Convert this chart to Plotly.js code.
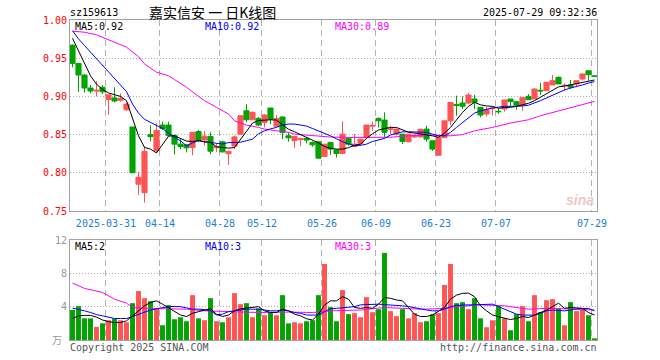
<!DOCTYPE html>
<html><head><meta charset="utf-8">
<script src="https://cdn.plot.ly/plotly-3.0.1.min.js"></script>
<style>html,body{margin:0;padding:0;background:#fff;}#c{width:660px;height:360px;}</style>
</head><body><div id="c"></div>
<script>
const dates = ['03-21','03-24','03-25','03-26','03-27','03-28','03-31',
'04-01','04-02','04-03','04-07','04-08','04-09','04-10','04-11','04-14','04-15','04-16','04-17','04-18','04-21','04-22','04-23','04-24','04-25','04-28','04-29','04-30',
'05-06','05-07','05-08','05-09','05-12','05-13','05-14','05-15','05-16','05-19','05-20','05-21','05-22','05-23','05-26','05-27','05-28','05-29','05-30',
'06-03','06-04','06-05','06-06','06-09','06-10','06-11','06-12','06-13','06-16','06-17','06-18','06-19','06-20','06-23','06-24','06-25','06-26','06-27','06-30',
'07-01','07-02','07-03','07-04','07-07','07-08','07-09','07-10','07-11','07-14','07-15','07-16','07-17','07-18','07-21','07-22','07-23','07-24','07-25','07-28','07-29'];
const tickDates = ['03-31','04-14','04-28','05-12','05-26','06-09','06-23','07-07','07-29'];
const tickLabels = ['2025-03-31','04-14','04-28','05-12','05-26','06-09','06-23','07-07','07-29'];

const open  = [.967,.943,.928,.911,.907,.912,.896,.898,.895,.8825,.860,.785,.774,.850,.829,.8625,.8625,.849,.8375,.8366,.833,.854,.843,.8476,.833,.8406,.825,.835,
.8506,.8812,.8694,.8712,.866,.8848,.8608,.873,.8484,.842,.8435,.845,.8398,.8406,.8214,.8398,.830,.8253,.845,.8345,.8385,
.8463,.861,.8712,.869,.857,.8506,.8506,.8406,.847,.847,.8572,.8419,.823,.8463,.868,.8895,.8913,.8913,
.8966,.8857,.877,.8838,.8805,.8835,.8966,.8931,.8887,.9001,.8966,.908,.9075,.915,.925,.914,.915,.9163,.9228,.9335,.927];
const high  = [.968,.944,.929,.915,.920,.915,.902,.912,.904,.892,.860,.801,.835,.862,.865,.867,.867,.850,.845,.838,.853,.856,.8546,.853,.8389,.842,.829,.849,
.8747,.890,.8803,.873,.877,.885,.8756,.874,.8529,.8476,.846,.8465,.841,.842,.8375,.8405,.831,.8673,.8463,.8506,.8441,
.8625,.8673,.8725,.8791,.8616,.858,.851,.8506,.8505,.858,.8616,.842,.847,.868,.8922,.901,.900,.9045,
.9018,.886,.886,.887,.884,.8953,.8966,.8935,.899,.903,.910,.9176,.919,.928,.926,.9172,.9215,.9206,.930,.9337,.927];
const low   = [.938,.906,.905,.904,.900,.903,.876,.892,.893,.881,.800,.771,.761,.841,.827,.856,.8475,.824,.831,.8267,.8231,.840,.8353,.8244,.8274,.8266,.8104,.831,
.850,.866,.8694,.861,.8594,.8638,.8608,.844,.8406,.8327,.835,.8385,.834,.8188,.8205,.8235,.820,.8244,.8353,.8335,.836,
.845,.855,.8594,.8463,.8506,.849,.8375,.840,.8455,.846,.8406,.8287,.822,.845,.8625,.8747,.8835,.8896,
.8835,.8726,.8735,.8747,.877,.880,.887,.8826,.8812,.8957,.8966,.9018,.907,.915,.9163,.9075,.9097,.912,.9206,.9206,.926];
const close = [.943,.928,.911,.907,.908,.906,.902,.894,.8975,.890,.800,.794,.828,.8475,.8555,.858,.849,.8375,.8345,.8327,.853,.8425,.848,.8283,.834,.8274,.828,.847,
.8747,.8694,.8791,.8625,.8756,.8703,.8712,.8529,.8458,.8476,.8445,.8428,.8366,.8192,.8375,.831,.8253,.8506,.8375,.8375,.8441,
.8625,.862,.8681,.8529,.8575,.8572,.8411,.8506,.849,.857,.8441,.831,.8463,.868,.892,.888,.887,.9018,
.8922,.8756,.8826,.8844,.880,.8953,.8931,.8887,.8983,.8957,.9097,.9072,.9185,.9206,.9163,.9145,.912,.9206,.9294,.9285,.926];
const volume = [3.6,4.06,2.6,2.6,1.57,2.0,2.37,2.57,2.37,2.13,
4.42,5.87,5.02,4.66,3.78,1.77,4.18,2.49,2.73,2.25,
5.38,2.6,2.37,5.02,2.25,2.13,2.73,5.62,4.3,4.42,
2.73,3.78,2.97,3.3,2.97,5.38,2.0,2.13,2.0,2.25,
2.37,5.38,9.12,3.94,2.25,5.99,3.1,3.22,2.73,5.14,
3.34,3.7,10.45,3.46,2.86,3.7,2.6,3.22,2.13,2.25,
3.1,3.22,6.6,9.12,4.42,4.54,3.7,5.02,2.6,1.53,
2.37,4.06,2.6,1.17,3.1,4.06,2.25,5.38,3.34,4.78,
4.9,3.82,1.77,4.54,3.46,3.7,2.97,0.2];

// moving-average lines
const ma5 = [.976,.960,.9425,.927,.916,.909,.9045,.902,.900,.8944,.870,.8484,.8332,.831,.826,.8375,.848,.8485,.845,.8415,.841,.842,.8405,.8398,.834,.8335,.8323,.833,
.844,.855,.865,.8685,.8694,.8694,.869,.8625,.857,.8537,.85,.8463,.843,.839,.8345,.832,.831,.831,.833,.836,.8375,
.845,.851,.856,.858,.8594,.8594,.856,.853,.852,.851,.8495,.8484,.8465,.852,.8594,.869,.879,.887,
.8922,.889,.8875,.887,.8844,.8855,.8857,.887,.8887,.891,.8944,.899,.9035,.9088,.9125,.9135,.915,.916,.9185,.920,.9215];
const ma10 = [.986,.9753,.9666,.958,.949,.9403,.9316,.9228,.914,.9062,.890,.8782,.870,.866,.8625,.8581,.852,.8463,.8419,.8353,.839,.8425,.8405,.840,.8385,.8378,.8395,.8398,
.840,.842,.844,.851,.855,.8575,.8594,.8625,.8638,.8638,.8625,.8612,.858,.855,.852,.8484,.8445,.8406,.838,.8355,.836,
.8375,.841,.8435,.845,.8495,.852,.8537,.8537,.8537,.8537,.853,.8506,.8484,.8484,.853,.8594,.866,.872,
.8782,.881,.8835,.885,.886,.887,.887,.887,.8875,.8885,.891,.8944,.898,.9018,.905,.9085,.911,.9125,.915,.9175,.9193];
const ma30Idx = [0,2,4,6,7,9,11,12,14,16,17,19,21,22,24,26,27,29,31,32,34,36,37,39,41,43,46,50,53,56,60,63,65,67,70,73,76,78,81,84,87];
const ma30 = [.9854,.984,.9806,.974,.970,.9644,.952,.9425,.9316,.927,.922,.912,.900,.8944,.8857,.877,.8681,.8625,.8594,.8572,.855,.853,.8506,.8493,.8476,.8468,.8463,.8463,.8465,.8484,.8495,.8484,.850,.855,.8594,.8651,.8694,.8747,.8812,.887,.8935];

const vma5 = [2.58,2.9,2.95,2.95,2.75,2.4,2.2,2.1,2.1,2.3,2.9,3.5,4.1,4.5,4.7,4.3,3.9,3.4,3.0,2.82,3.2,3.4,3.6,3.75,3.1,2.82,3.0,3.5,
3.75,3.85,3.95,4.0,3.5,3.3,3.3,3.7,3.5,3.1,2.9,2.55,2.4,3.1,4.2,4.7,4.7,5.2,4.9,3.9,3.8,
3.9,3.8,4.3,5.1,5.0,4.8,4.7,3.9,3.1,2.82,2.82,3.0,3.4,3.9,4.9,5.38,5.6,5.62,
5.2,4.1,3.5,3.0,2.8,2.6,2.45,2.6,2.82,2.7,3.0,3.3,3.6,4.0,4.42,3.8,3.9,3.85,3.8,3.3,3.0];
const vma10 = [3.82,3.7,3.5,3.3,3.05,2.9,2.7,2.58,2.58,2.58,2.82,3.1,3.38,3.6,3.75,3.9,4.0,4.02,4.0,3.85,3.7,3.7,3.65,3.5,3.0,3.1,3.4,3.5,
3.6,3.7,3.7,3.7,3.6,3.5,3.5,3.6,3.5,3.3,3.2,3.0,2.98,3.0,3.4,3.75,3.8,3.85,3.9,4.0,4.22,
4.25,4.3,4.3,4.25,4.22,4.2,4.1,4.02,3.85,3.7,3.6,3.5,3.5,3.7,4.0,4.15,4.22,4.22,
4.22,4.22,4.25,4.3,4.0,3.7,3.4,3.1,3.0,2.98,2.98,3.2,3.5,3.6,3.55,3.5,3.6,3.75,3.78,3.78,3.5];
const vma30Idx = [0,2,5,7,9,10,13,17,19,22,27,31,36,40,43,48,52,55,58,62,64,68,72,76,79,82,86,87];
const vma30 = [6.83,6.19,5.71,4.9,4.42,3.9,3.78,3.72,3.7,3.5,3.38,3.3,3.35,3.3,3.5,3.6,3.9,3.8,3.7,3.78,4.0,4.22,4.1,3.7,3.8,3.75,3.7,3.6];

const UP = '#ff5454', DOWN = '#00a400';
const idx = dates.map((d, i) => i);
const tickvals = tickDates.map(d => dates.indexOf(d) - 0.42);
const barColors = idx.map(i => close[i] >= open[i] ? UP : DOWN);

const mono = 'DejaVu Sans Mono, monospace';
const L = 70, R = 597, T = 20, B = 340;
const px = x => (x - L) / (R - L);
const py = y => (B - y) / (B - T);

const traces = [
  {type:'candlestick', x: idx, open, high, low, close, xaxis:'x', yaxis:'y', hoverinfo:'none',
   whiskerwidth: 0,
   increasing:{line:{color:UP, width:1}, fillcolor:UP},
   decreasing:{line:{color:DOWN, width:1}, fillcolor:DOWN}},
  {type:'scatter', mode:'lines', x: ma30Idx, y: ma30, line:{color:'#ff00ff', width:1}, xaxis:'x', yaxis:'y', hoverinfo:'none'},
  {type:'scatter', mode:'lines', x: idx, y: ma10, line:{color:'#0000ff', width:1}, xaxis:'x', yaxis:'y', hoverinfo:'none'},
  {type:'scatter', mode:'lines', x: idx, y: ma5, line:{color:'#000000', width:1}, xaxis:'x', yaxis:'y', hoverinfo:'none'},
  {type:'bar', x: idx, y: volume, marker:{color: barColors, line:{width:0}}, width: 0.82, xaxis:'x2', yaxis:'y2', hoverinfo:'none'},
  {type:'scatter', mode:'lines', x: vma30Idx, y: vma30, line:{color:'#ff00ff', width:1}, xaxis:'x2', yaxis:'y2', hoverinfo:'none'},
  {type:'scatter', mode:'lines', x: idx, y: vma10, line:{color:'#0000ff', width:1}, xaxis:'x2', yaxis:'y2', hoverinfo:'none'},
  {type:'scatter', mode:'lines', x: idx, y: vma5, line:{color:'#000000', width:1}, xaxis:'x2', yaxis:'y2', hoverinfo:'none'}
];

const xcommon = {range:[-0.4167, 87.4167], tickvals, ticktext: tickLabels, showgrid:true, gridcolor:'#b0b0b0',
  griddash:'6px,4px', gridwidth:1, showline:true, mirror:true, linecolor:'#a0a0a0', linewidth:1, ticks:'', zeroline:false, fixedrange:true};

function ann(text, x, y, xanchor, color, size, family, extra) {
  return Object.assign({text, xref:'paper', yref:'paper', x: px(x), y: py(y), xanchor, yanchor:'middle',
    showarrow:false, font:{family: family || mono, size: size || 10, color}}, extra || {});
}

const layout = {
  width:660, height:360, margin:{l:L, r:660-R, t:T, b:360-B}, paper_bgcolor:'#fff', plot_bgcolor:'#fff',
  showlegend:false, boxgap:0.15, boxgroupgap:0,
  xaxis: Object.assign({}, xcommon, {anchor:'y', showticklabels:true, ticklabelstandoff:3,
    tickfont:{family:mono, size:10, color:'#1b7fd6'}, rangeslider:{visible:false}}),
  xaxis2: Object.assign({}, xcommon, {anchor:'y2', showticklabels:false}),
  yaxis: {domain:[(B-211)/(B-T), 1], range:[0.75, 1.0], tickvals:[0.75,0.80,0.85,0.90,0.95,1.00], tickformat:'.2f',
    showgrid:true, gridcolor:'#b0b0b0', griddash:'1px,2px', showline:true, mirror:true, linecolor:'#a0a0a0', linewidth:1,
    zeroline:false, ticks:'', tickfont:{family:mono, size:10, color:'#ff0000'}, fixedrange:true},
  yaxis2: {domain:[0, (B-240)/(B-T)], range:[0, 12], tickvals:[4,8,12], showgrid:true, gridcolor:'#b0b0b0', griddash:'1px,2px',
    showline:true, mirror:true, linecolor:'#a0a0a0', linewidth:1, zeroline:false, ticks:'',
    tickfont:{family:mono, size:10, color:'#999999'}, fixedrange:true},
  annotations: [
    ann('sz159613', 68, 13, 'left', '#000'),
    ann('嘉实信安 一 日K线图', 212, 12, 'center', '#000', 14, 'Noto Sans CJK SC'),
    ann('2025-07-29 09:32:36', 599, 13, 'right', '#000'),
    ann('MA5:0.92', 73, 27, 'left', '#000'),
    ann('MA10:0.92', 203, 27, 'left', '#0000ff'),
    ann('MA30:0.89', 333, 27, 'left', '#ff00ff'),
    ann('MA5:2', 73, 246, 'left', '#000'),
    ann('MA10:3', 203, 246, 'left', '#0000ff'),
    ann('MA30:3', 333, 246, 'left', '#ff00ff'),
    ann('万', 64, 339, 'right', '#999999', 10, 'Noto Sans CJK SC'),
    ann('Copyright 2025 SINA.COM', 68, 347, 'left', '#555555'),
    ann('http://finance.sina.com.cn', 599, 347, 'right', '#555555'),
    ann('<b><i>sina</i></b>', 580, 200, 'center', '#ecc8c8', 14, 'Liberation Sans')
  ]
};

Plotly.newPlot('c', traces, layout, {staticPlot:true, displayModeBar:false});
</script></body></html>
